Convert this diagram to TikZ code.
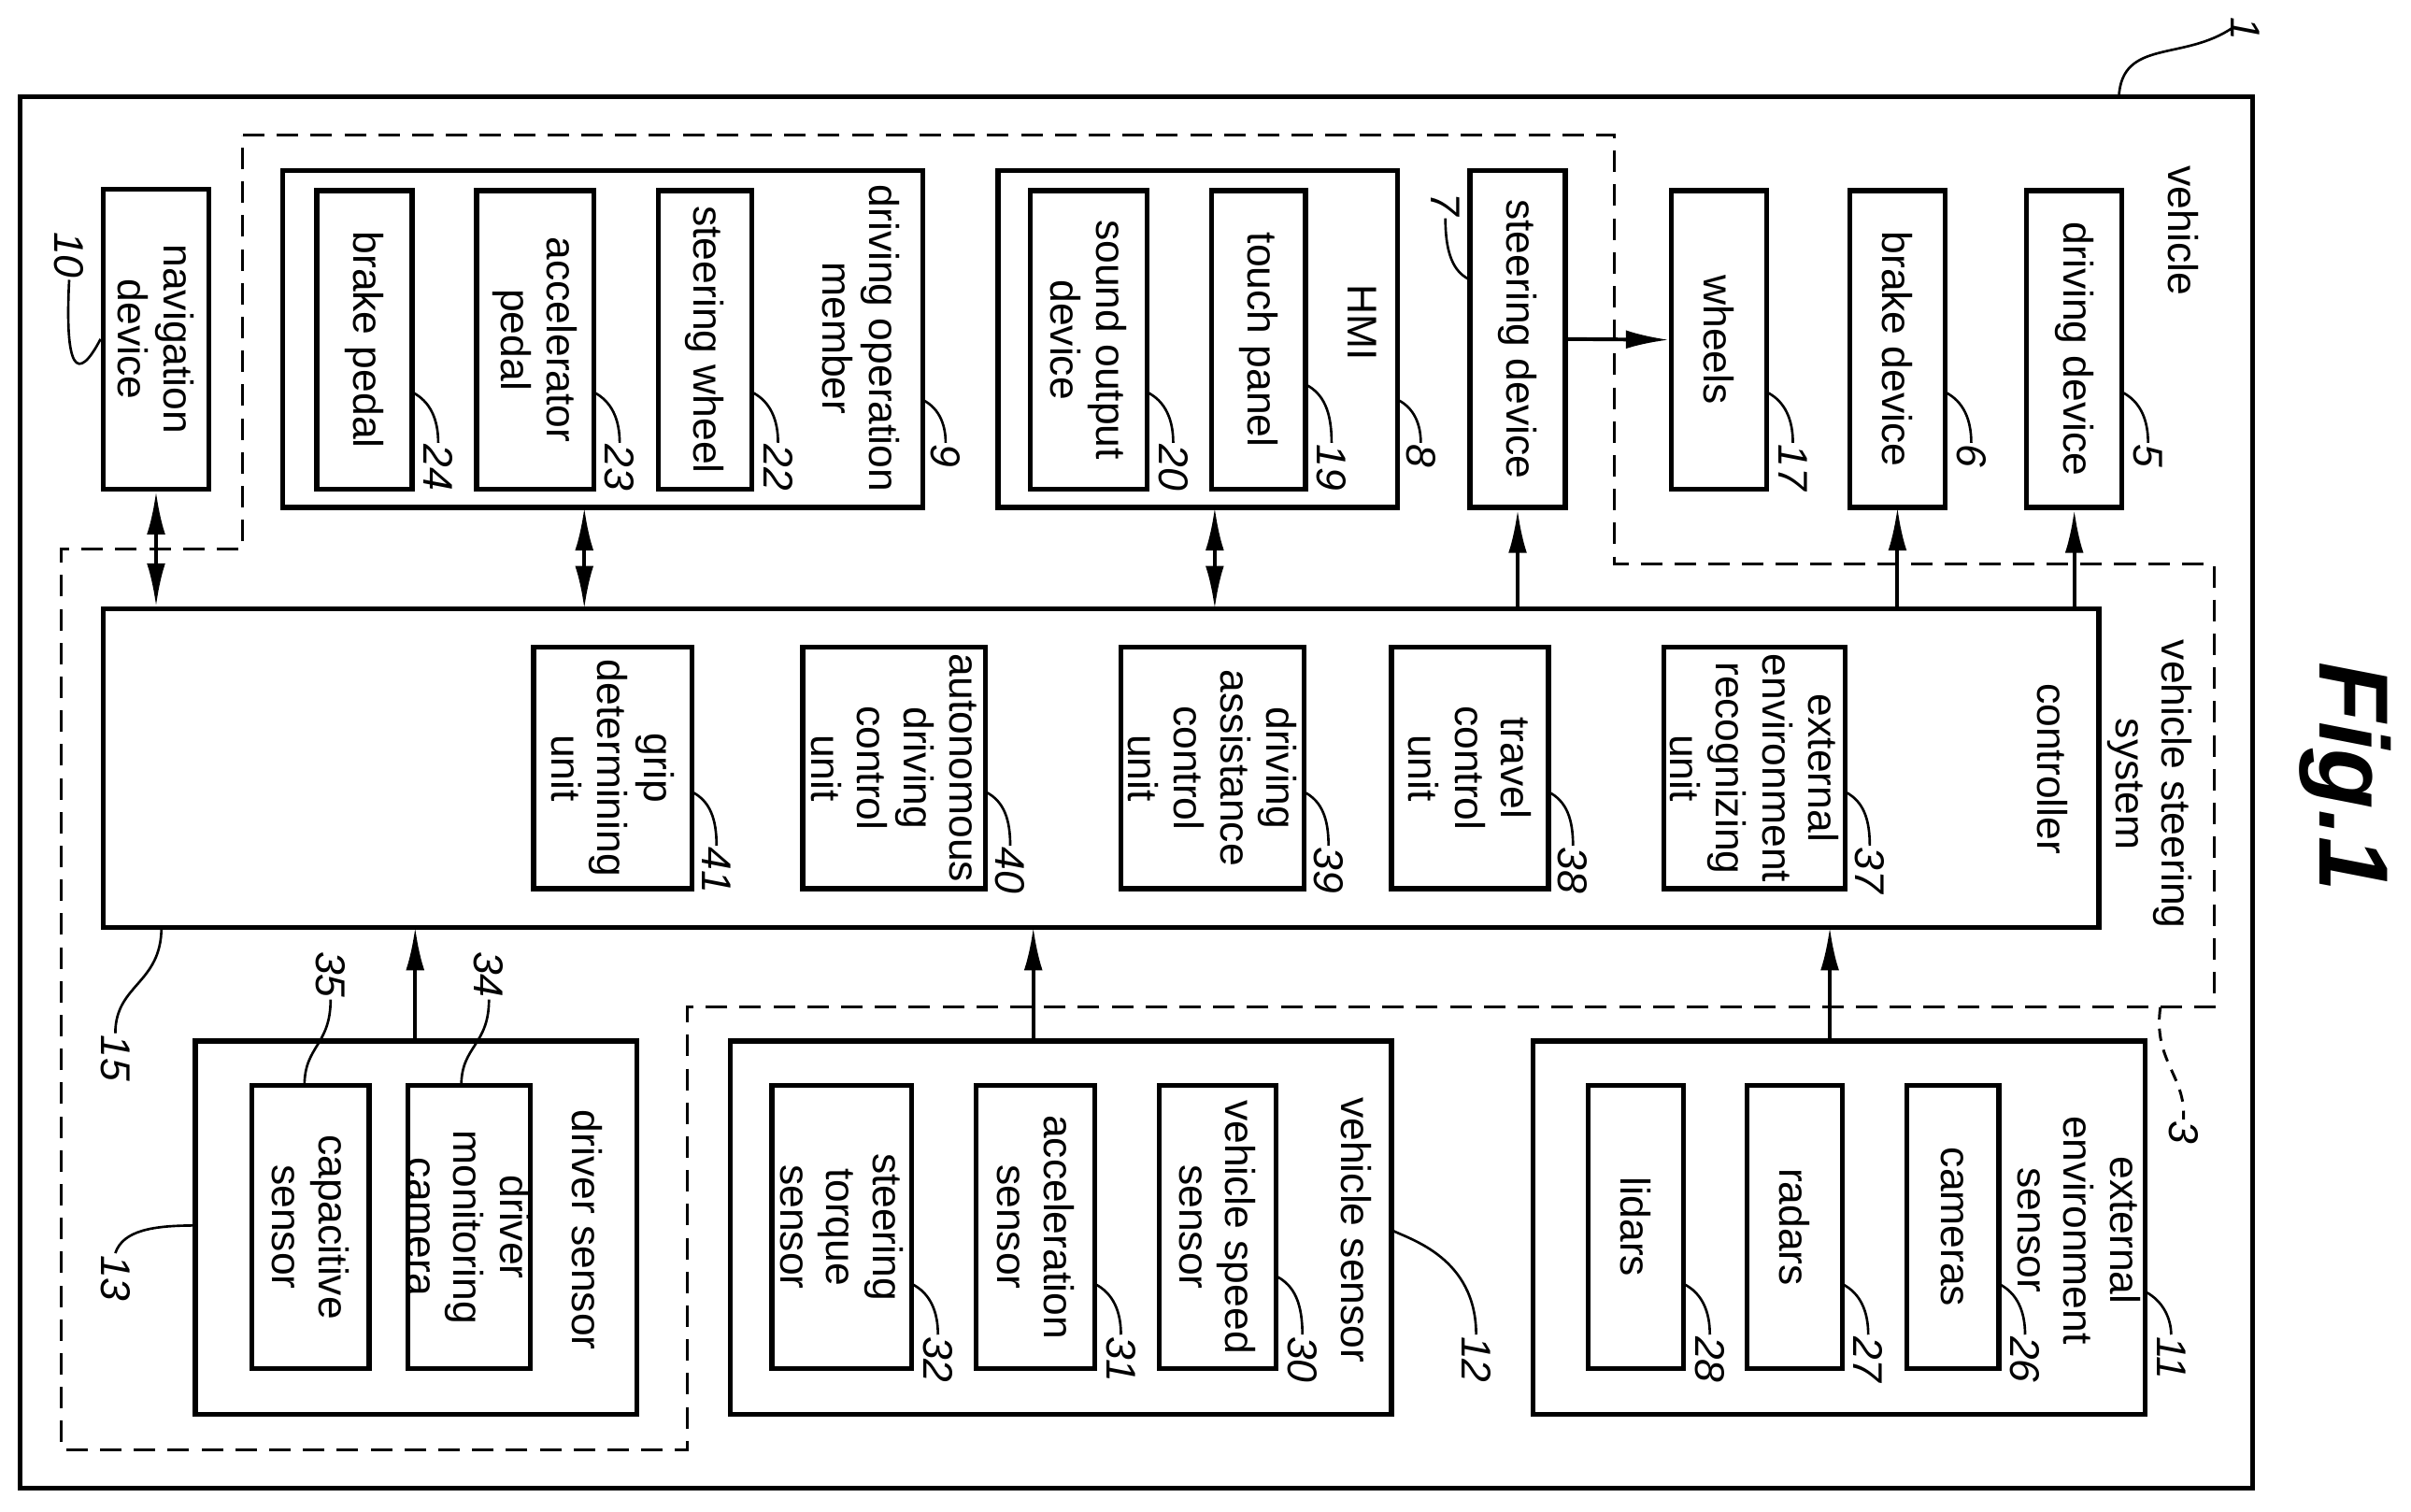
\documentclass[tikz,border=0pt]{standalone}
\usepackage{fontspec}
\setmainfont{Liberation Sans}
\usetikzlibrary{arrows.meta}
\usetikzlibrary{calc}

% box from corner (x1,y1) to corner (x2,y2), text turned
\newcommand\bx[6]{\node[box, minimum width={(#5-#3)*1pt}, minimum height={(#4-#2)*1pt}] (#1) at ({(#2+#4)/2},{(#3+#5)/2}) {#6};}

\begin{document}
\begin{tikzpicture}
[
	x = 1pt, y = -1pt,
	box/.style	= {draw, line width = 3.2pt, rotate = -90, align = center, inner sep = 0pt, font = \fontsize{27}{30}\selectfont},
	title/.style	= {rotate = -90, align = center, inner sep = 0pt, font = \fontsize{27}{30}\selectfont},
	num/.style	= {rotate = -90, anchor = west, inner sep = 1pt, font = \fontsize{27}{30}\selectfont\itshape},
	leader/.style	= {line width = 1.6pt},
	system/.style	= {line width = 1.8pt, dash pattern = on 14pt off 8pt},
	arr/.style	= {line width = 2.4pt, -{Latex[length = 28pt, width = 12pt]}},
	darr/.style	= {line width = 2.4pt, {Latex[length = 28pt, width = 12pt]}-{Latex[length = 28pt, width = 12pt]}},
]
	\useasboundingbox (0,0) rectangle (1568,983);

	% vehicle
	\bx{vehicle}{13}{63}{1465}{968}{}
	\node (tvehicle) [title] at (1420,150) {vehicle};
	\node (n1) [num, anchor = south west] at (1450,10) {1};
	\draw [leader] (1378,63) .. controls (1380,25) and (1420,40) .. (1452,18);

	% vehicle steering system
	\draw [system] (158,88) -- (1050,88) -- (1050,367) -- (1440,367) -- (1440,655) -- (447,655) -- (447,943) -- (40,943) -- (40,357) -- (158,357) -- cycle;
	\node (tsystem) [title] at (1398,510) {vehicle steering\\system};
	\coordinate (c3) at (1405,655);
	\node (n3) [num] at (1420,728) {3};
	\draw [system, dash pattern = on 8pt off 6pt] (c3) .. controls (1400,690) and (1422,700) .. (n3.west);

	% top row
	\bx{nav}{67}{123}{136}{318}{navigation\\device}
	\node (n10) [num, anchor = east] at (45,182) {10};
	\draw [leader] (n10.east) .. controls (42,240) and (50,250) .. (nav.south);

	\bx{drvop}{184}{111}{600}{330}{}
	\node (tdrvop) [title] at (560,220) {driving operation\\member};
	\bx{brake}{206}{124}{268}{318}{brake pedal}
	\bx{accel}{310}{124}{386}{318}{accelerator\\pedal}
	\bx{steerw}{428}{124}{489}{318}{steering wheel}

	\bx{hmi}{649}{111}{909}{330}{}
	\node (thmi) [title] at (886,210) {HMI};
	\bx{sound}{670}{124}{746}{318}{sound output\\device}
	\bx{touch}{788}{124}{849}{318}{touch panel}

	\bx{steerdev}{956}{111}{1018}{330}{steering device}
	\bx{wheels}{1087}{124}{1149}{318}{wheels}
	\bx{brakedev}{1203}{124}{1265}{330}{brake device}
	\bx{drivedev}{1318}{124}{1380}{330}{driving device}

	% numbers, top row
	\foreach \xa/\ya/\xb/\t in {268/255/285/24, 386/255/403/23, 489/255/506/22, 600/260/615/9,
		746/255/763/20, 849/250/866/19, 909/260/924/8, 1149/255/1166/17, 1265/255/1282/6, 1380/255/1397/5}
	{
		\node (n\t) [num] at (\xb,288) {\t};
		\draw [leader] (\xa,\ya) .. controls (\xa+12,\ya+6) and (\xb,\ya+18) .. (n\t.west);
	}
	\node (n7) [num, anchor = east] at (940,142) {7};
	\draw [leader] (n7.east) .. controls (940,170) and (948,178) .. (956,182);

	% controller
	\bx{ctrl}{67}{396}{1365}{603}{}
	\node (tctrl) [title] at (1335,500) {controller};
	\bx{grip}{347}{421}{450}{578}{grip\\determining\\unit}
	\bx{auto}{522}{421}{641}{578}{autonomous\\driving\\control\\unit}
	\bx{assist}{729}{421}{848}{578}{driving\\assistance\\control\\unit}
	\bx{travel}{905}{421}{1007}{578}{travel\\control\\unit}
	\bx{extrec}{1082}{421}{1200}{578}{external\\environment\\recognizing\\unit}
	\foreach \xa/\xb/\t in {450/466/41, 641/657/40, 848/864/39, 1007/1023/38, 1200/1216/37}
	{
		\node (n\t) [num] at (\xb,550) {\t};
		\draw [leader] (\xa,515) .. controls (\xa+12,521) and (\xb,533) .. (n\t.west);
	}
	\coordinate (c15) at (105,603);
	\node (n15) [num] at (75,672) {15};
	\draw [leader] (c15) .. controls (105,640) and (75,640) .. (n15.west);

	% bottom row
	\bx{drvsens}{127}{677}{414}{920}{}
	\node (tdrvsens) [title] at (382,800) {driver sensor};
	\bx{capac}{164}{706}{240}{890}{capacitive\\sensor}
	\bx{monit}{267}{706}{343}{890}{driver\\monitoring\\camera}

	\bx{vehsens}{475}{677}{905}{920}{}
	\node (tvehsens) [title] at (882,800) {vehicle sensor};
	\bx{torque}{502}{706}{593}{890}{steering\\torque\\sensor}
	\bx{accsens}{635}{706}{712}{890}{acceleration\\sensor}
	\bx{speed}{754}{706}{830}{890}{vehicle speed\\sensor}

	\bx{extsens}{997}{677}{1395}{920}{}
	\node (textsens) [title] at (1352,800) {external\\environment\\sensor};
	\bx{lidars}{1033}{706}{1095}{890}{lidars}
	\bx{radars}{1136}{706}{1198}{890}{radars}
	\bx{cameras}{1240}{706}{1300}{890}{cameras}

	% numbers, bottom row
	\foreach \xa/\ya/\xb/\t in {593/835/610/32, 712/835/729/31, 830/830/847/30, 905/800/960/12,
		1095/835/1112/28, 1198/835/1215/27, 1300/835/1317/26, 1395/840/1412/11}
	{
		\node (n\t) [num] at (\xb,868) {\t};
		\draw [leader] (\xa,\ya) .. controls (\xa+12,\ya+6) and (\xb,\ya+18) .. (n\t.west);
	}
	\node (n35) [num, anchor = east] at (215,650) {35};
	\draw [leader] (n35.east) .. controls (215,680) and (198,680) .. (198,706);
	\node (n34) [num, anchor = east] at (318,650) {34};
	\draw [leader] (n34.east) .. controls (318,680) and (300,680) .. (300,706);
	\node (n13) [num] at (75,815) {13};
	\draw [leader] (127,797) .. controls (100,797) and (80,800) .. (n13.west);

	% connectors (turned boxes: east = lower side, north = right side)
	\draw [darr] (nav.east) -- (nav.east |- ctrl.west);
	\draw [darr] (380,330) -- (380,396);
	\draw [darr] (790,330) -- (790,396);
	\draw [arr] (steerdev.east |- ctrl.west) -- (steerdev.east);
	\draw [arr] (1234,396) -- (1234,330);
	\draw [arr] (drivedev.east |- ctrl.west) -- (drivedev.east);
	\draw [arr] (steerdev.north) -- (wheels.south);
	\draw [arr] (270,677) -- (270,603);
	\draw [arr] (672,677) -- (672,603);
	\draw [arr] (1190,677) -- (1190,603);

	\node (fig) [rotate = -90, font = \fontsize{64}{70}\selectfont\bfseries\itshape] at (1525,505) {Fig.1};
\end{tikzpicture}
\end{document}
